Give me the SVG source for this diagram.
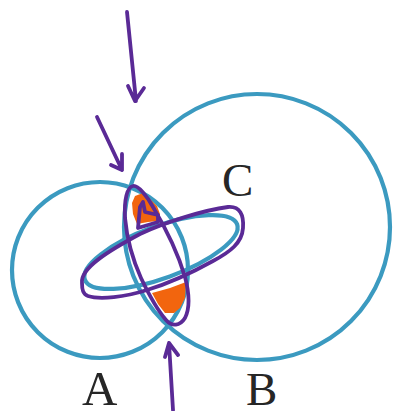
<svg xmlns="http://www.w3.org/2000/svg" width="398" height="411" viewBox="0 0 398 411">
<style>
.blue{fill:none;stroke:#3b9ac0;stroke-width:4.2}
.pur{fill:none;stroke:#5a2a96;stroke-width:3.8;stroke-linecap:round;stroke-linejoin:round}
.org{fill:#f2650e}
.lbl{font-family:"Liberation Serif",serif;fill:#262626}
</style>
<rect width="398" height="411" fill="#ffffff"/>
<g id="circleA"><circle class="blue" cx="100" cy="270" r="88"/></g>
<g id="circleB"><circle class="blue" cx="257" cy="227" r="133"/></g>
<g id="ellipseC"><ellipse class="blue" cx="161" cy="252" rx="81" ry="26" transform="rotate(-20 161 252)"/></g>
<g id="orange">
<path class="org" d="M135,196 L143,193 L150,199 L157,206 L160,214 L158,221 L148,222 L137,224 L133,214 L132,203 Z"/>
<path class="org" d="M152,293 L170,288 L186,282 L185,298 L180,308 L174,313 L165,313 L158,304 Z"/>
</g>
<g id="marks">
<path class="pur" d="M82,283 C80,268 110,250 140,234 C165,222 205,210 228,207 C240,206 244,215 243,228 C242,243 230,252 213,261 C195,271 170,283 147,290 C125,297 100,300 88,296 C83,294 82,290 82,283 Z"/>
<path class="pur" d="M133,186 C138,185 147,196 153,207 C162,222 177,250 185,277 C189,292 190,308 185,318 C180,326 172,327 166,320 C160,313 150,297 141,278 C132,258 127,240 125,218 C124,200 127,187 133,186 Z"/>
<path class="pur" d="M138,228 L140,207 L143,202 L145,212 L158,215 L158,222 Z"/>
</g>
<g id="connectors">
<path class="pur" d="M127,12 L136,101 M128,86 L135,101 L144,88"/>
<path class="pur" d="M97,117 L122,170 M111,165 L122,170 L122,154"/>
<path class="pur" d="M173,410 L169,343 M165,357 L169,343 L178,355"/>
</g>
<g id="labels">
<text class="lbl" x="222" y="196" font-size="47">C</text>
<text class="lbl" x="82" y="405" font-size="49">A</text>
<text class="lbl" x="246" y="405" font-size="47">B</text>
</g>
</svg>
